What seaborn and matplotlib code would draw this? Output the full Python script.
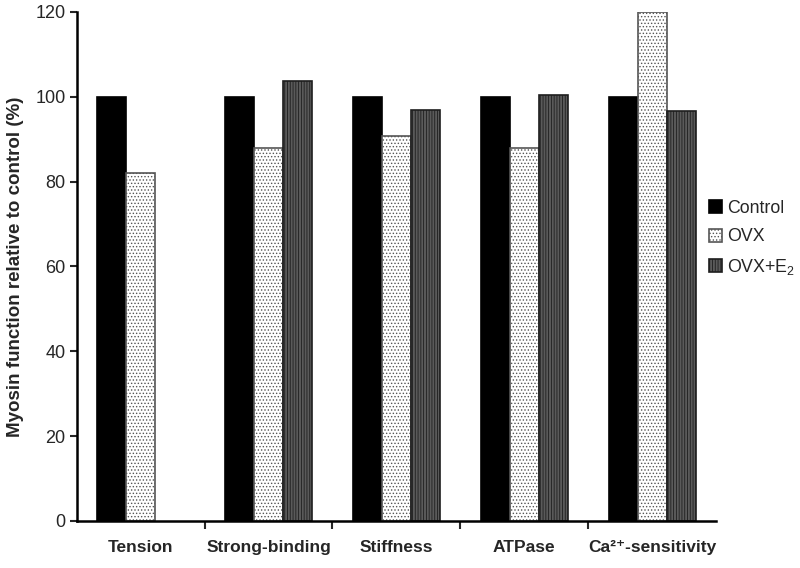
import pandas as pd
import numpy as np
import seaborn as sns
import matplotlib.pyplot as plt

# values (% of control)
categories = ['Tension', 'Strong-binding', 'Stiffness', 'ATPase', 'Ca²⁺-sensitivity']
groups = ['Control', 'OVX', 'OVX+E$_2$']
control = [100, 100, 100, 100, 100]
ovx = [82, 87.8, 90.8, 87.8, 120]
ovx_e2 = [np.nan, 103.8, 96.8, 100.3, 96.7]

df = pd.DataFrame({'category': categories * 3,
                   'group': [groups[0]] * 5 + [groups[1]] * 5 + [groups[2]] * 5,
                   'value': control + ovx + ovx_e2})

sns.set_style('white')
plt.rcParams['font.family'] = ['Liberation Sans', 'DejaVu Sans']
plt.rcParams['mathtext.fontset'] = 'custom'
plt.rcParams['mathtext.default'] = 'regular'
plt.rcParams['hatch.linewidth'] = 0.6

fig = plt.figure(figsize=(8, 5.68), dpi=100)
ax = fig.add_axes([0.096, 0.083, 0.799, 0.896])

sns.barplot(data=df, x='category', y='value', hue='group', order=categories,
            hue_order=groups, palette=['black', 'white', '#5a5a5a'],
            width=0.68, gap=0, ax=ax, legend=False, saturation=1)

# patterns per series
styles = [dict(hatch=None, edge='black'),
          dict(hatch='.....', edge='#555555'),
          dict(hatch='||||||', edge='#1e1e1e')]
for cont, st in zip(ax.containers, styles):
    for p in cont:
        p.set_edgecolor(st['edge'])
        p.set_linewidth(1.2)
        if st['hatch']:
            p.set_hatch(st['hatch'])

ax.set_ylim(0, 120)
ax.set_xlim(-0.5, 4.5)
ax.set_yticks(range(0, 121, 20))
ax.tick_params(axis='y', labelsize=13, direction='out', length=5, width=1.5, left=True, pad=3)
ax.set_xticks(np.arange(0.5, 4.5, 1), minor=True)
ax.set_xticks(range(5))
ax.set_xticklabels(categories, fontsize=12.5, fontweight='bold',
                   family=['Liberation Sans Narrow', 'Liberation Sans', 'DejaVu Sans'])
ax.tick_params(axis='x', which='major', length=0, pad=14)
ax.tick_params(axis='x', which='minor', direction='out', length=6, width=1.5, bottom=True)
ax.set_xlabel('')
ax.set_ylabel('Myosin function relative to control (%)', fontsize=13.5, fontweight='bold', labelpad=8)

for side in ['top', 'right']:
    ax.spines[side].set_visible(False)
for side in ['left', 'bottom']:
    ax.spines[side].set_linewidth(1.8)
    ax.spines[side].set_color('black')

handles = [c.patches[0] for c in ax.containers]
ax.legend(handles, groups, loc='center left', bbox_to_anchor=(0.978, 0.555),
          frameon=False, prop={'size': 12.8}, handlelength=0.75,
          handleheight=0.75, handletextpad=0.25, labelspacing=0.65, borderaxespad=0)

fig.savefig('out.png', dpi=100)
